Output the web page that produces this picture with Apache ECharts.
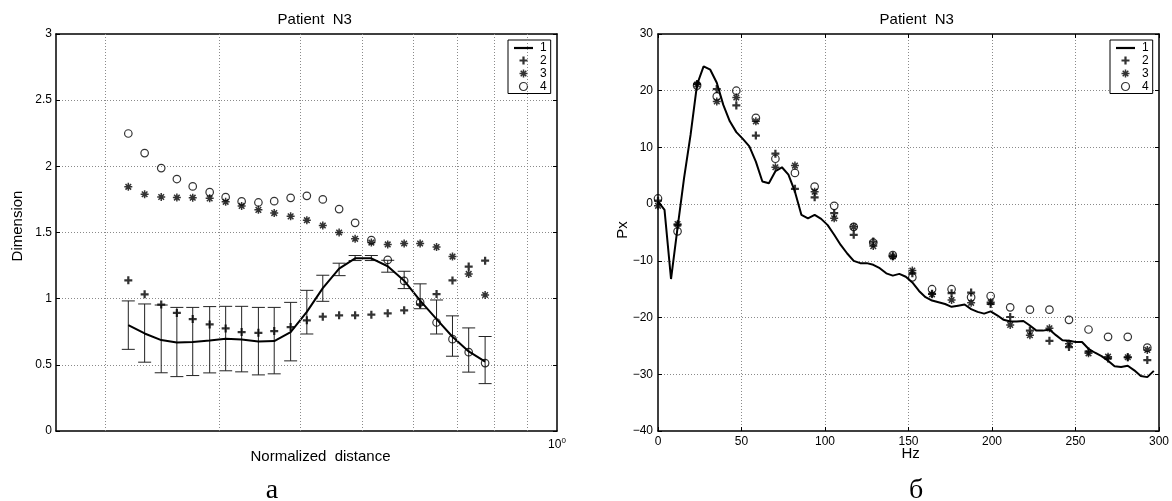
<!DOCTYPE html>
<html>
<head>
<meta charset="utf-8">
<script src="https://cdn.jsdelivr.net/npm/echarts@6/dist/echarts.min.js"></script>
<style>
  html, body { margin: 0; padding: 0; background: #fff; }
  #chart { width: 1172px; height: 501px; }
</style>
</head>
<body>
<div id="chart"></div>
<script>
// ---- Panel a: correlation dimension vs normalized distance (log x) ----
const distance = [0.217, 0.230, 0.244, 0.258, 0.273, 0.290, 0.307, 0.325, 0.345, 0.365, 0.387, 0.410,
                  0.434, 0.460, 0.487, 0.516, 0.547, 0.580, 0.614, 0.651, 0.689, 0.730, 0.774];
const dimMean = [0.800, 0.737, 0.687, 0.669, 0.672, 0.684, 0.697, 0.692, 0.677, 0.680, 0.748, 0.900,
                 1.080, 1.227, 1.305, 1.305, 1.245, 1.136, 0.985, 0.846, 0.712, 0.601, 0.525];
const dimLow  = [0.617, 0.520, 0.440, 0.411, 0.419, 0.439, 0.455, 0.447, 0.424, 0.432, 0.530, 0.733,
                 0.980, 1.174, 1.288, 1.288, 1.200, 1.076, 0.924, 0.733, 0.565, 0.445, 0.358];
const dimHigh = [0.983, 0.960, 0.952, 0.934, 0.934, 0.940, 0.942, 0.942, 0.934, 0.934, 0.972, 1.063,
                 1.177, 1.268, 1.326, 1.326, 1.290, 1.207, 1.112, 0.990, 0.870, 0.779, 0.714];
const dimSet2 = [1.139, 1.033, 0.955, 0.892, 0.846, 0.805, 0.775, 0.748, 0.742, 0.755, 0.785, 0.836,
                 0.864, 0.874, 0.874, 0.879, 0.889, 0.912, 0.957, 1.035, 1.138, 1.243, 1.287];
const dimSet3 = [1.845, 1.789, 1.768, 1.764, 1.763, 1.758, 1.732, 1.701, 1.671, 1.647, 1.622, 1.593,
                 1.553, 1.500, 1.452, 1.424, 1.410, 1.417, 1.417, 1.390, 1.318, 1.187, 1.028];
const dimSet4 = [2.248, 2.100, 1.987, 1.904, 1.848, 1.805, 1.767, 1.735, 1.727, 1.737, 1.762, 1.777,
                 1.750, 1.677, 1.573, 1.442, 1.293, 1.134, 0.972, 0.820, 0.694, 0.596, 0.513];
const distanceGrid = [0.2, 0.3, 0.4, 0.5, 0.6, 0.7, 0.8, 0.9];
const dimTicks = { min: 0, max: 3, step: 0.5 };

// ---- Panel b: spectrum Px vs frequency ----
const lineHz = [0, 3.9, 7.8, 11.7, 15.6, 19.5, 23.4, 27.3, 31.3, 35.2, 39.1, 43.0, 46.9, 50.8, 54.7, 58.6,
                62.5, 66.4, 70.3, 74.2, 78.1, 82.0, 85.9, 89.8, 93.8, 97.7, 101.6, 105.5, 109.4, 113.3,
                117.2, 121.1, 125.0, 128.9, 132.8, 136.7, 140.6, 144.5, 148.4, 152.3, 156.3, 160.2, 164.1,
                168.0, 171.9, 175.8, 179.7, 183.6, 187.5, 191.4, 195.3, 199.2, 203.1, 207.0, 210.9, 214.8,
                218.8, 222.7, 226.6, 230.5, 234.4, 238.3, 242.2, 246.1, 250.0, 253.9, 257.8, 261.7, 265.6,
                269.5, 273.4, 277.3, 281.3, 285.2, 289.1, 293.0, 296.9];
const pxLine = [0.5, -1.0, -13.2, -4.2, 4.6, 12.2, 21.1, 24.3, 23.7, 21.4, 17.5, 14.6, 12.7, 11.5, 10.2, 7.5,
                4.0, 3.7, 5.8, 6.5, 5.2, 2.2, -1.9, -2.5, -1.9, -2.6, -3.7, -5.4, -7.2, -8.7,
                -10.0, -10.4, -10.4, -10.7, -11.3, -12.2, -12.6, -12.3, -12.8, -13.8, -15.3, -16.4, -17.0,
                -17.3, -17.6, -18.1, -17.9, -17.7, -18.5, -19.0, -19.3, -18.9, -19.6, -20.4, -20.7, -20.7,
                -20.6, -21.4, -22.3, -22.3, -22.1, -23.1, -24.0, -24.1, -24.3, -24.3, -25.5, -26.2, -26.8,
                -27.6, -28.6, -28.7, -28.5, -29.3, -30.3, -30.5, -29.4];
const freqHz = [0, 11.7, 23.4, 35.2, 46.9, 58.6, 70.3, 82.0, 93.8, 105.5, 117.2, 128.9, 140.6,
                152.3, 164.1, 175.8, 187.5, 199.2, 210.9, 222.7, 234.4, 246.1, 257.8, 269.5, 281.3, 293.0];
const pxSet2 = [0.6, -3.7, 21.2, 20.3, 17.4, 12.1, 8.9, 2.7, 1.2, -1.6, -5.4, -6.6, -9.2,
                -12.2, -15.8, -15.7, -15.6, -17.6, -19.9, -22.3, -24.1, -25.2, -26.0, -27.2, -27.0, -27.5];
const pxSet3 = [-0.3, -3.5, 21.1, 18.1, 18.8, 14.6, 6.5, 6.8, 2.2, -2.5, -4.0, -7.4, -9.2,
                -11.7, -15.9, -16.9, -17.4, -17.3, -21.3, -23.1, -21.9, -24.6, -26.3, -26.9, -27.0, -25.7];
const pxSet4 = [1.0, -4.8, 20.9, 19.0, 20.0, 15.2, 8.0, 5.5, 3.1, -0.3, -4.0, -6.8, -9.0,
                -12.9, -15.0, -15.0, -16.4, -16.2, -18.2, -18.6, -18.6, -20.4, -22.1, -23.4, -23.4, -25.3];
const hzTicks = { min: 0, max: 300, step: 50 };
const pxTicks = { min: -40, max: 30, step: 10 };

const seriesNames = ['1', '2', '3', '4'];

const SANS = '"Liberation Sans", Arial, Helvetica, sans-serif';
const SERIF = '"Liberation Serif", "DejaVu Serif", serif';
const GRID_COLOR = '#8a8a8a';
const DOTTED = [1, 2];

// filled bold cross, stroked eight-armed asterisk, thin bar for the line legend entry
const plusSymbol = 'path://M3.6,0H6.4V3.6H10V6.4H6.4V10H3.6V6.4H0V3.6H3.6Z';
const starSymbol = 'path://M5,0L5,10M0,5L10,5M1.5,1.5L8.5,8.5M1.5,8.5L8.5,1.5';
const lineIcon = 'path://M0,0H19V2.2H0Z';

const zip = (xs, ys) => xs.map((x, i) => [x, ys[i]]);
const minusFmt = v => (v < 0 ? '\u2212' + Math.abs(v) : String(v));

const frameLine = { show: true, onZero: false, lineStyle: { color: '#000', width: 1.5 } };
const innerTick = { show: true, inside: true, length: 4, lineStyle: { color: '#000', width: 1 } };
const dottedSplit = { show: true, showMinLine: false, showMaxLine: false,
                      lineStyle: { type: DOTTED, color: GRID_COLOR, width: 1 } };
const tickLabel = { color: '#000', fontFamily: SANS, fontSize: 12 };

function markers(xAxisIndex, yAxisIndex, xs, a, b, c) {
  return [
    { name: '2', type: 'scatter', xAxisIndex, yAxisIndex, data: zip(xs, a), z: 4,
      symbol: plusSymbol, symbolSize: 8,
      itemStyle: { color: '#000', borderWidth: 0 } },
    { name: '3', type: 'scatter', xAxisIndex, yAxisIndex, data: zip(xs, b), z: 4,
      symbol: starSymbol, symbolSize: 8,
      itemStyle: { color: 'none', borderColor: '#000', borderWidth: 1.5 } },
    { name: '4', type: 'scatter', xAxisIndex, yAxisIndex, data: zip(xs, c), z: 4,
      symbol: 'circle', symbolSize: 7.5,
      itemStyle: { color: 'rgba(255,255,255,0)', borderColor: '#000', borderWidth: 1.2 } }
  ];
}

function errorBars(params, api) {
  const x = api.value(0);
  const pLo = api.coord([x, api.value(1)]);
  const pHi = api.coord([x, api.value(2)]);
  const cap = 6.5;
  const style = { stroke: '#222', lineWidth: 1 };
  return {
    type: 'group',
    children: [
      { type: 'line', shape: { x1: pLo[0], y1: pLo[1], x2: pHi[0], y2: pHi[1] }, style },
      { type: 'line', shape: { x1: pLo[0] - cap, y1: pLo[1], x2: pLo[0] + cap, y2: pLo[1] }, style },
      { type: 'line', shape: { x1: pHi[0] - cap, y1: pHi[1], x2: pHi[0] + cap, y2: pHi[1] }, style }
    ]
  };
}

function legendAt(left) {
  return {
    data: [{ name: seriesNames[0], icon: lineIcon }, seriesNames[1], seriesNames[2], seriesNames[3]],
    orient: 'vertical', left, top: 40,
    itemWidth: 19, itemHeight: 8, itemGap: 0.5,
    padding: [2, 4, 1, 6],
    borderColor: '#000', borderWidth: 1, backgroundColor: '#fff',
    selectedMode: false,
    itemStyle: { borderWidth: 'inherit' },
    textStyle: { color: '#000', fontFamily: SANS, fontSize: 12, padding: [0, 0, 0, 2] }
  };
}

function label(x, y, text, extra) {
  return Object.assign({
    type: 'text', x, y, silent: true,
    style: { text, font: '15px ' + SANS, fill: '#000', align: 'center', verticalAlign: 'middle' }
  }, extra || {});
}

const chart = echarts.init(document.getElementById('chart'), null, { renderer: 'canvas' });

chart.setOption({
  animation: false,
  backgroundColor: '#fff',
  textStyle: { fontFamily: SANS },
  grid: [
    { left: 56, top: 34, width: 501, height: 397 },
    { left: 658, top: 34, width: 501, height: 397 }
  ],
  xAxis: [
    { gridIndex: 0, type: 'log', logBase: 10, min: 0.1677, max: 1, position: 'bottom',
      axisLine: frameLine, axisTick: { show: false }, splitLine: { show: false },
      axisLabel: Object.assign({}, tickLabel, {
        margin: 6, showMinLabel: false,
        formatter: v => (Math.abs(v - 1) < 1e-6 ? '{b|10}{s|0}' : ''),
        rich: {
          b: { fontFamily: SANS, fontSize: 12, color: '#000', lineHeight: 14, verticalAlign: 'bottom' },
          s: { fontFamily: SANS, fontSize: 8, color: '#000', lineHeight: 8, verticalAlign: 'top' }
        }
      }) },
    { gridIndex: 0, type: 'log', logBase: 10, min: 0.1677, max: 1, position: 'top',
      axisLine: frameLine, axisTick: { show: false }, axisLabel: { show: false }, splitLine: { show: false } },
    { gridIndex: 1, type: 'value', min: hzTicks.min, max: hzTicks.max, interval: hzTicks.step, position: 'bottom',
      axisLine: frameLine, axisTick: innerTick, splitLine: dottedSplit,
      axisLabel: Object.assign({}, tickLabel, { margin: 5 }) },
    { gridIndex: 1, type: 'value', min: hzTicks.min, max: hzTicks.max, interval: hzTicks.step, position: 'top',
      axisLine: frameLine, axisTick: innerTick, axisLabel: { show: false }, splitLine: { show: false } }
  ],
  yAxis: [
    { gridIndex: 0, type: 'value', min: dimTicks.min, max: dimTicks.max, interval: dimTicks.step, position: 'left',
      axisLine: frameLine, axisTick: innerTick, splitLine: dottedSplit,
      axisLabel: Object.assign({}, tickLabel, { margin: 4 }) },
    { gridIndex: 0, type: 'value', min: dimTicks.min, max: dimTicks.max, interval: dimTicks.step, position: 'right',
      axisLine: frameLine, axisTick: innerTick, axisLabel: { show: false }, splitLine: { show: false } },
    { gridIndex: 1, type: 'value', min: pxTicks.min, max: pxTicks.max, interval: pxTicks.step, position: 'left',
      axisLine: frameLine, axisTick: innerTick, splitLine: dottedSplit,
      axisLabel: Object.assign({}, tickLabel, { margin: 5, formatter: minusFmt }) },
    { gridIndex: 1, type: 'value', min: pxTicks.min, max: pxTicks.max, interval: pxTicks.step, position: 'right',
      axisLine: frameLine, axisTick: innerTick, axisLabel: { show: false }, splitLine: { show: false } }
  ],
  legend: [legendAt(508), legendAt(1110)],
  series: [
    // panel a: error bars (mean ± spread) plus the log-spaced vertical grid
    { name: 'spread', type: 'custom', xAxisIndex: 0, yAxisIndex: 0, z: 2,
      data: distance.map((d, i) => [d, dimLow[i], dimHigh[i]]),
      encode: { x: 0, y: [1, 2] },
      renderItem: errorBars,
      markLine: {
        silent: true, symbol: ['none', 'none'], label: { show: false },
        lineStyle: { type: DOTTED, color: GRID_COLOR, width: 1 },
        emphasis: { disabled: true },
        data: distanceGrid.map(v => ({ xAxis: v }))
      } },
    { name: '1', type: 'line', xAxisIndex: 0, yAxisIndex: 0, z: 3,
      data: zip(distance, dimMean), symbol: 'none',
      lineStyle: { color: '#000', width: 2 }, itemStyle: { color: '#000' } },
    ...markers(0, 0, distance, dimSet2, dimSet3, dimSet4),

    // panel b
    { name: '1', type: 'line', xAxisIndex: 2, yAxisIndex: 2, z: 3,
      data: zip(lineHz, pxLine), symbol: 'none',
      lineStyle: { color: '#000', width: 2 }, itemStyle: { color: '#000' } },
    ...markers(2, 2, freqHz, pxSet2, pxSet3, pxSet4)
  ],
  graphic: [
    label(314.7, 20, 'Patient  N3'),
    label(916.7, 20, 'Patient  N3'),
    label(17.5, 226, 'Dimension', { rotation: Math.PI / 2 }),
    label(320.5, 457, 'Normalized  distance'),
    label(623, 230, 'Px', { rotation: Math.PI / 2 }),
    label(910.7, 454, 'Hz'),
    { type: 'text', x: 272, y: 491, silent: true,
      style: { text: 'а', font: '28px ' + SERIF, fill: '#000', align: 'center', verticalAlign: 'middle' } },
    { type: 'text', x: 916, y: 491, silent: true,
      style: { text: 'б', font: '28px ' + SERIF, fill: '#000', align: 'center', verticalAlign: 'middle' } }
  ]
});
</script>
</body>
</html>
